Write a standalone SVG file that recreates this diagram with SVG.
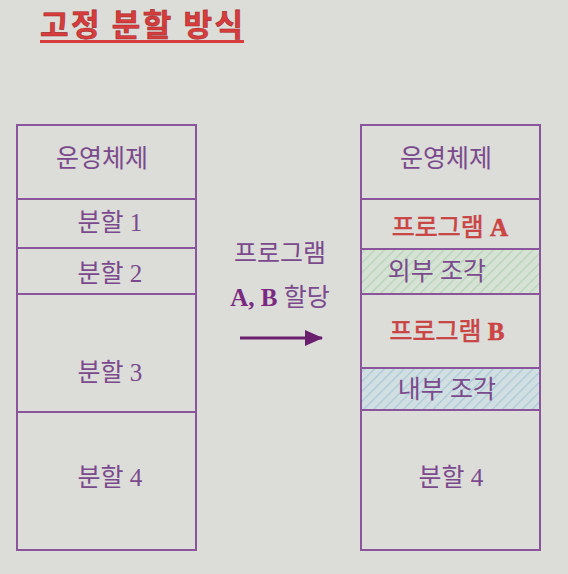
<svg xmlns="http://www.w3.org/2000/svg" width="568" height="574" viewBox="0 0 568 574">
<defs>
<style>
.bg{fill:#dcdcd9}
.box{fill:none;stroke:#8a559a;stroke-width:2}
.div{stroke:#8a559a;stroke-width:2}
.t{font-family:"Liberation Serif","Noto Sans CJK KR",serif;font-size:25px;fill:#7a4a8c;text-anchor:middle}
.r{fill:#d04545;stroke:#c03a3a;stroke-width:0.5}
.b{font-weight:bold}
.title{font-family:"Noto Sans CJK KR",sans-serif;font-size:31px;font-weight:bold;fill:#d83c3c;stroke:#a02a2a;stroke-width:0.6}
</style>
<pattern id="hg" width="7" height="7" patternUnits="userSpaceOnUse" patternTransform="rotate(45)">
<rect width="7" height="7" fill="#d6e2d4"/>
<line x1="0" y1="0" x2="0" y2="7" stroke="#b5d3b8" stroke-width="2.5"/>
</pattern>
<pattern id="hb" width="7" height="7" patternUnits="userSpaceOnUse" patternTransform="rotate(45)">
<rect width="7" height="7" fill="#d2dfe2"/>
<line x1="0" y1="0" x2="0" y2="7" stroke="#a9c9d6" stroke-width="2.5"/>
</pattern>
<marker id="ah" markerWidth="18" markerHeight="16" refX="17" refY="8" orient="auto" markerUnits="userSpaceOnUse" viewBox="0 0 18 16">
<path d="M0,0 L18,8 L0,16 Z" fill="#6a1f6e"/>
</marker>
</defs>
<rect class="bg" width="568" height="574"/>
<g id="title">
<text class="title" x="40" y="36" textLength="203" lengthAdjust="spacing">고정 분할 방식</text>
<rect x="40" y="40" width="204" height="3" fill="#d83c3c"/>
</g>
<g id="left-memory">
<rect class="box" x="17" y="125" width="179" height="425"/>
<g id="l-os"><text class="t" x="102" y="167">운영체제</text></g>
<line class="div" x1="17" y1="199" x2="196" y2="199"/>
<g id="l-p1"><text class="t" x="110" y="231">분할 1</text></g>
<line class="div" x1="17" y1="248" x2="196" y2="248"/>
<g id="l-p2"><text class="t" x="110" y="282">분할 2</text></g>
<line class="div" x1="17" y1="294" x2="196" y2="294"/>
<g id="l-p3"><text class="t" x="110" y="381">분할 3</text></g>
<line class="div" x1="17" y1="412" x2="196" y2="412"/>
<g id="l-p4"><text class="t" x="110" y="486">분할 4</text></g>
</g>
<g id="right-memory">
<rect x="362" y="249" width="177" height="45" fill="url(#hg)"/>
<rect x="362" y="368" width="177" height="42" fill="url(#hb)"/>
<rect class="box" x="361" y="125" width="179" height="425"/>
<g id="r-os"><text class="t" x="446" y="167">운영체제</text></g>
<line class="div" x1="361" y1="199" x2="540" y2="199"/>
<g id="r-pa"><text class="t r" x="450" y="236">프로그램 <tspan class="b">A</tspan></text></g>
<line class="div" x1="361" y1="249" x2="540" y2="249"/>
<g id="r-ext"><text class="t" x="437" y="280">외부 조각</text></g>
<line class="div" x1="361" y1="294" x2="540" y2="294"/>
<g id="r-pb"><text class="t r" x="447" y="340">프로그램 <tspan class="b">B</tspan></text></g>
<line class="div" x1="361" y1="368" x2="540" y2="368"/>
<g id="r-int"><text class="t" x="447" y="398">내부 조각</text></g>
<line class="div" x1="361" y1="410" x2="540" y2="410"/>
<g id="r-p4"><text class="t" x="451" y="486">분할 4</text></g>
</g>
<g id="connectors">
<line x1="240" y1="338" x2="322" y2="338" stroke="#6a1f6e" stroke-width="3" marker-end="url(#ah)"/>
</g>
<g id="label">
<text class="t" x="280" y="262">프로그램</text>
<text class="t" x="280" y="306"><tspan class="b" fill="#7a2a80">A, B</tspan> 할당</text>
</g>
</svg>
